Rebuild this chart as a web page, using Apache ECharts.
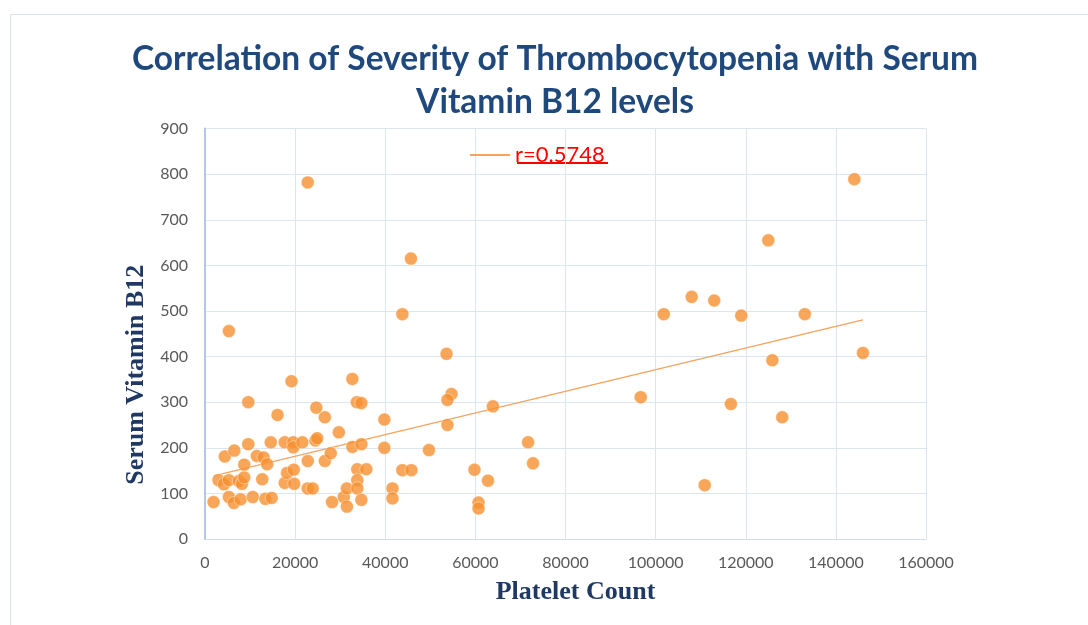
<!DOCTYPE html>
<html>
<head>
<meta charset="utf-8">
<title>Correlation of Severity of Thrombocytopenia with Serum Vitamin B12 levels</title>
<script src="https://cdn.jsdelivr.net/npm/echarts@6/dist/echarts.min.js"></script>
<style>
  html, body { margin: 0; padding: 0; background: #fff; }
  .chart_wrap { width: 1088px; height: 625px; position: relative; }
  .chart_frame {
    position: absolute; left: 10px; top: 14px; right: -4px; bottom: -4px;
    border: 1px solid #d6e2f0;
  }
  .chart_canvas { position: absolute; left: 0; top: 0; width: 1088px; height: 625px; }
</style>
</head>
<body>
<div class="chart_wrap">
  <div class="chart_frame"></div>
  <div class="chart_canvas" id="chart"></div>
</div>
<script>
// platelet count (x) and serum vitamin B12 (y)
const plateletCount = [
  1900, 3000, 4200, 4400, 5300, 5300, 5300, 6400, 6500, 7500,
  7900, 8200, 8700, 8700, 9600, 9600, 10600, 11500, 12700, 13000,
  13400, 13800, 14600, 14800, 16100, 17700, 17700, 18200, 19200, 19600,
  19600, 19700, 19800, 21600, 22800, 22800, 22800, 23900, 24500, 24700,
  24900, 26600, 26600, 27900, 28200, 29700, 30800, 31500, 31500, 32700,
  32700, 33700, 33800, 33800, 33800, 34700, 34700, 34700, 35800, 39800,
  39800, 41600, 41600, 43800, 43800, 45700, 45800, 49700, 53600, 54700,
  53800, 53800, 59800, 60700, 60700, 62800, 63900, 71700, 72800,
  96700, 101800, 108000, 110900, 113000, 116700, 119000, 125000, 125900, 128100,
  133100, 144100, 146000
];
const vitaminB12 = [
  81, 129, 120, 181, 129, 92, 456, 79, 194, 127,
  87, 121, 135, 163, 300, 208, 92, 182, 131, 179,
  88, 164, 212, 90, 272, 212, 123, 145, 346, 212,
  201, 152, 121, 212, 111, 782, 171, 111, 216, 288,
  221, 267, 171, 188, 81, 234, 92, 111, 71, 351,
  202, 300, 153, 129, 111, 298, 208, 86, 153, 262,
  200, 111, 89, 493, 151, 615, 151, 195, 406, 318,
  305, 250, 152, 80, 67, 128, 291, 212, 166,
  311, 493, 531, 118, 523, 296, 490, 655, 392, 267,
  493, 789, 408
];
const legendLabel = "r=0.5748";
const xTicks = [0, 20000, 40000, 60000, 80000, 100000, 120000, 140000, 160000];
const yTicks = [0, 100, 200, 300, 400, 500, 600, 700, 800, 900];

// least squares trend line, from the smallest to the largest platelet count
function trendLine(xs, ys) {
  const n = xs.length;
  let sx = 0, sy = 0, sxx = 0, sxy = 0;
  for (let i = 0; i < n; i++) {
    sx += xs[i]; sy += ys[i];
    sxx += xs[i] * xs[i]; sxy += xs[i] * ys[i];
  }
  const b = (n * sxy - sx * sy) / (n * sxx - sx * sx);
  const a = (sy - b * sx) / n;
  const x0 = Math.min(...xs), x1 = Math.max(...xs);
  return [[x0, a + b * x0], [x1, a + b * x1]];
}

const points = plateletCount.map((x, i) => [x, vitaminB12[i]]);
const trend = trendLine(plateletCount, vitaminB12);

const chart = echarts.init(document.getElementById("chart"));
chart.setOption({
  animation: false,
  title: {
    text: "Correlation of Severity of Thrombocytopenia with Serum\nVitamin B12 levels",
    left: 550, // centre of the title text
    textAlign: "center",
    top: 33,
    textStyle: {
      fontFamily: "Lato",
      fontWeight: "bold",
      fontSize: 33.5,
      lineHeight: 43,
      color: "#1f497d"
    }
  },
  legend: {
    data: [legendLabel],
    left: 465,
    top: 139,
    itemWidth: 40,
    itemHeight: 2,
    itemGap: 6,
    icon: "rect",
    textStyle: { fontFamily: "Lato", fontSize: 22, color: "#ff0000" }
  },
  grid: { left: 205, right: 162, top: 128.6, bottom: 86 },
  xAxis: {
    type: "value",
    min: xTicks[0],
    max: xTicks[xTicks.length - 1],
    interval: xTicks[1] - xTicks[0],
    name: "Platelet Count",
    nameLocation: "middle",
    nameGap: 40,
    nameTextStyle: {
      fontFamily: "Liberation Serif",
      fontWeight: "bold",
      fontSize: 26,
      color: "#1f3864",
      padding: [0, 0, 0, 20]
    },
    axisLine: { show: true, lineStyle: { color: "#d0ddef" } },
    axisTick: { show: false },
    axisLabel: {
      margin: 16,
      fontFamily: "Lato",
      fontSize: 16,
      color: "#595959",
      formatter: (v) => String(v)
    },
    splitLine: { show: true, lineStyle: { color: "#dce6f3" } }
  },
  yAxis: {
    type: "value",
    min: yTicks[0],
    max: yTicks[yTicks.length - 1],
    interval: yTicks[1] - yTicks[0],
    name: "Serum Vitamin B12",
    nameLocation: "middle",
    nameGap: 56,
    nameTextStyle: {
      fontFamily: "Liberation Serif",
      fontWeight: "bold",
      fontSize: 26,
      color: "#1f3864",
      padding: [0, 82, 0, 0]
    },
    axisLine: { show: true, lineStyle: { color: "#b4c7e7", width: 2 } },
    axisTick: { show: false },
    axisLabel: { margin: 17, fontFamily: "Lato", fontSize: 16, color: "#595959" },
    splitLine: { show: true, lineStyle: { color: "#dce6f3" } }
  },
  graphic: [
    // underline of the r value in the legend
    { type: "rect", left: 517, top: 162, shape: { width: 91, height: 2 }, style: { fill: "#ff0000" }, silent: true }
  ],
  series: [
    {
      name: "points",
      type: "scatter",
      symbolSize: 13,
      itemStyle: { color: "#f6902f", borderColor: "rgba(255,255,255,0.5)", borderWidth: 1 },
      data: points,
      z: 3
    },
    {
      name: legendLabel,
      type: "line",
      symbol: "none",
      lineStyle: { color: "#f5a35e", width: 1.2 },
      itemStyle: { color: "#f5a35e" },
      data: trend,
      z: 2
    }
  ]
});
</script>
</body>
</html>
